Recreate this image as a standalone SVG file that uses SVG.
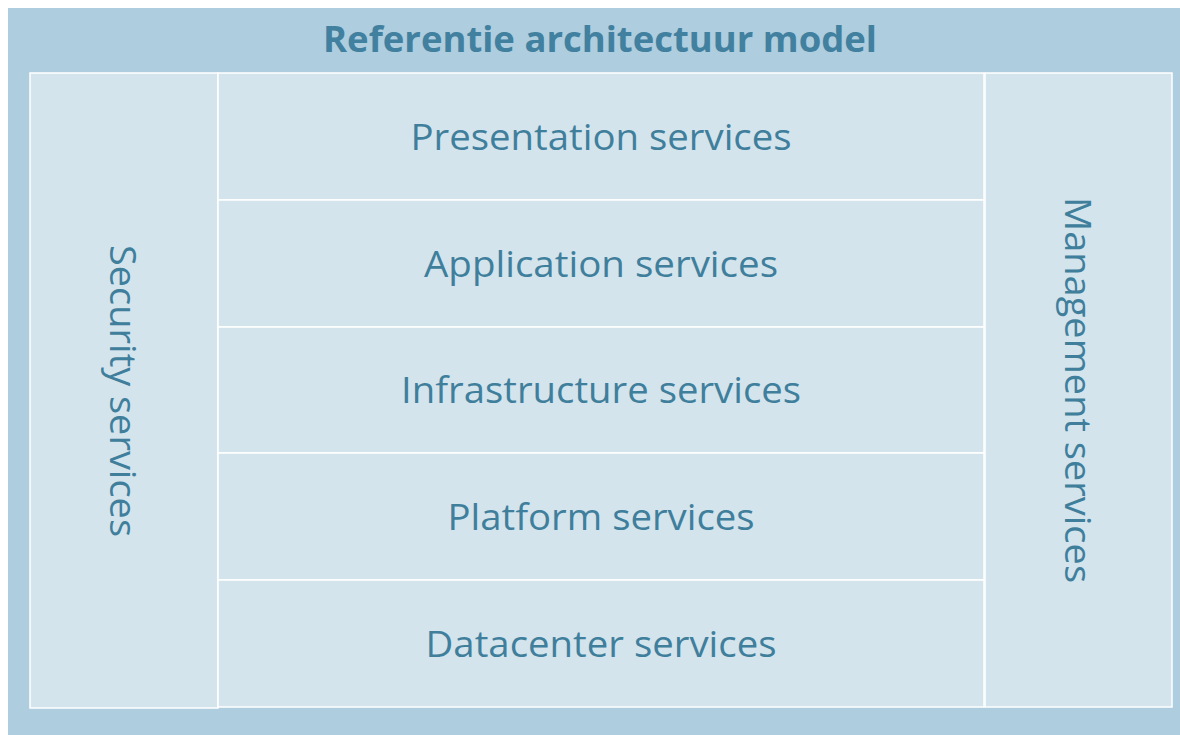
<svg xmlns="http://www.w3.org/2000/svg" width="1180" height="735" viewBox="0 0 1180 735">
  <style>
    .frame { fill: #AECDDE; }
    .cell { fill: #D4E4ED; stroke: #FFFFFF; stroke-width: 1.5; }
    .lbl { font-family: "Open Sans", "Liberation Sans", sans-serif; font-size: 36px; fill: #3F7F9C; text-anchor: middle; }
    .title { font-family: "Open Sans", "Liberation Sans", sans-serif; font-size: 36px; font-weight: bold; fill: #41809E; text-anchor: middle; }
  </style>
  <rect width="1180" height="735" fill="#FFFFFF"/>
  <g id="model">
    <rect class="frame" x="8" y="8" width="1172" height="727"/>
    <text class="title" x="600" y="52" textLength="554" lengthAdjust="spacingAndGlyphs">Referentie architectuur model</text>
  </g>
  <g id="security">
    <rect class="cell" x="30" y="73" width="188" height="635"/>
    <text class="lbl" transform="translate(110 391) rotate(90)" textLength="292" lengthAdjust="spacingAndGlyphs">Security services</text>
  </g>
  <g id="presentation">
    <rect class="cell" x="218" y="73" width="766" height="127"/>
    <text class="lbl" x="601" y="150" textLength="381" lengthAdjust="spacingAndGlyphs">Presentation services</text>
  </g>
  <g id="application">
    <rect class="cell" x="218" y="200" width="766" height="127"/>
    <text class="lbl" x="601" y="277" textLength="354" lengthAdjust="spacingAndGlyphs">Application services</text>
  </g>
  <g id="infrastructure">
    <rect class="cell" x="218" y="327" width="766" height="126"/>
    <text class="lbl" x="601" y="403" textLength="400" lengthAdjust="spacingAndGlyphs">Infrastructure services</text>
  </g>
  <g id="platform">
    <rect class="cell" x="218" y="453" width="766" height="127"/>
    <text class="lbl" x="601" y="530" textLength="307" lengthAdjust="spacingAndGlyphs">Platform services</text>
  </g>
  <g id="datacenter">
    <rect class="cell" x="218" y="580" width="766" height="127"/>
    <text class="lbl" x="601" y="657" textLength="351" lengthAdjust="spacingAndGlyphs">Datacenter services</text>
  </g>
  <g id="management">
    <rect class="cell" x="985" y="73" width="187" height="634"/>
    <text class="lbl" transform="translate(1065 390) rotate(90)" textLength="386" lengthAdjust="spacingAndGlyphs">Management services</text>
  </g>
  <g id="connectors"/>
</svg>
